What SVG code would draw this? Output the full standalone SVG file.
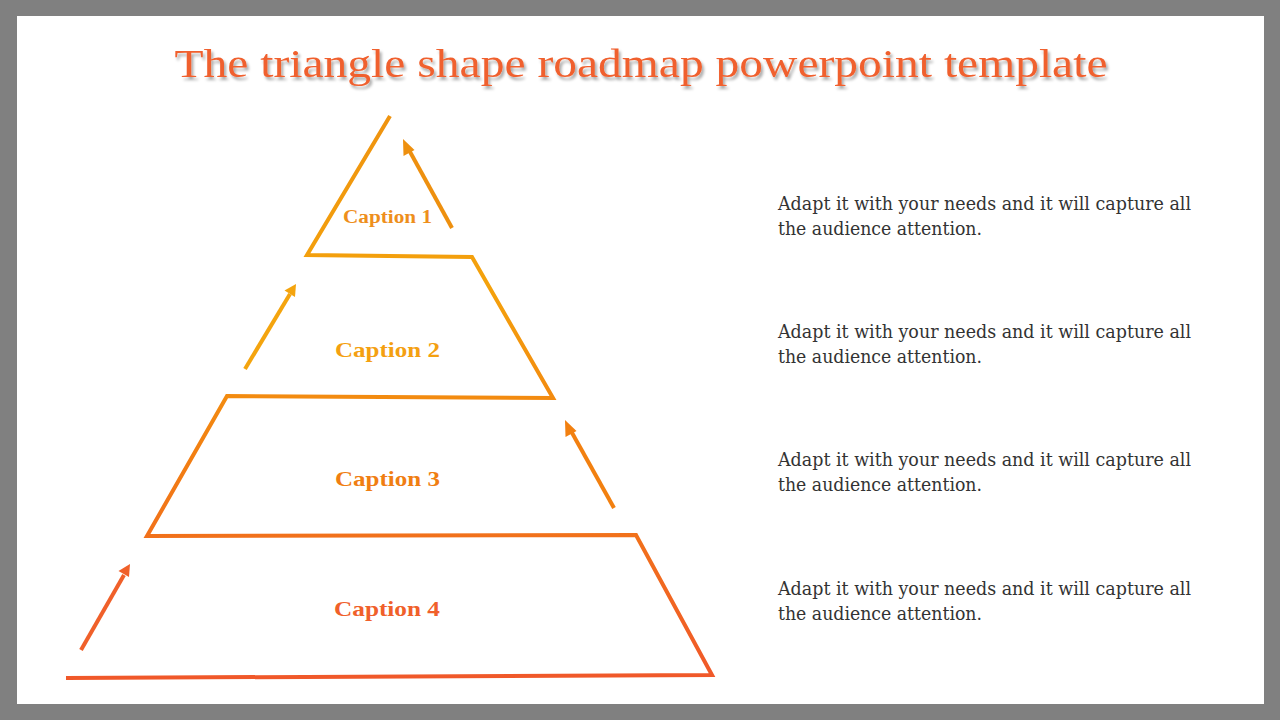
<svg xmlns="http://www.w3.org/2000/svg" width="1280" height="720" viewBox="0 0 1280 720">
  <defs>
    <linearGradient id="g" gradientUnits="userSpaceOnUse" x1="0" y1="116" x2="0" y2="680">
      <stop offset="0" stop-color="#EF930F"/>
      <stop offset="0.3" stop-color="#F4A20C"/>
      <stop offset="0.6" stop-color="#F27F12"/>
      <stop offset="1" stop-color="#F0582A"/>
    </linearGradient>
    <filter id="sh" x="-5%" y="-30%" width="110%" height="160%">
      <feGaussianBlur in="SourceAlpha" stdDeviation="1.5"/>
      <feOffset dx="2" dy="3" result="b"/>
      <feComponentTransfer><feFuncA type="linear" slope="0.35"/></feComponentTransfer>
      <feMerge><feMergeNode/><feMergeNode in="SourceGraphic"/></feMerge>
    </filter>
  </defs>
  <style>
    .cap{font-family:"Liberation Serif","DejaVu Serif",serif;font-weight:bold;text-anchor:middle}
    .body{font-family:"DejaVu Serif","Liberation Serif",serif;font-size:18px;fill:#333333}
    .arr{stroke-width:4;fill:none}
  </style>
  <rect x="0" y="0" width="1280" height="720" fill="#808080"/>
  <rect x="17" y="16" width="1247" height="688" fill="#FFFFFF"/>
  <text x="641" y="77" text-anchor="middle" font-family="Liberation Serif, DejaVu Serif, serif" font-size="41" fill="#F0602E" textLength="933" lengthAdjust="spacingAndGlyphs" filter="url(#sh)">The triangle shape roadmap powerpoint template</text>

  <g id="pyramid">
    <polyline points="390,116 307,255 472,257 553,398 227,396 147,536 636,535 712,675 66,678" fill="none" stroke="url(#g)" stroke-width="4" stroke-linejoin="miter"/>
  </g>

  <g id="connectors">
    <g stroke="#EE900F" fill="#EE900F">
      <line class="arr" x1="452" y1="228" x2="409" y2="150"/>
      <polygon points="403,139 403.5,156 414.5,150" stroke="none"/>
    </g>
    <g stroke="#F4A40E" fill="#F4A40E">
      <line class="arr" x1="245" y1="369" x2="290" y2="294"/>
      <polygon points="296,284 284.5,290.5 295,297" stroke="none"/>
    </g>
    <g stroke="#F28010" fill="#F28010">
      <line class="arr" x1="614" y1="508" x2="571" y2="431"/>
      <polygon points="565,420 565.5,437 576.5,431" stroke="none"/>
    </g>
    <g stroke="#F0602A" fill="#F0602A">
      <line class="arr" x1="81" y1="650" x2="124" y2="575"/>
      <polygon points="130,564 118.5,571 129,577" stroke="none"/>
    </g>
  </g>

  <g id="caption1"><text class="cap" x="387.5" y="223" font-size="18" fill="#EE8F1C" textLength="89" lengthAdjust="spacingAndGlyphs">Caption 1</text></g>
  <g id="caption2"><text class="cap" x="387.5" y="357" font-size="21" fill="#F4A011" textLength="105" lengthAdjust="spacingAndGlyphs">Caption 2</text></g>
  <g id="caption3"><text class="cap" x="387.5" y="486" font-size="21" fill="#F07E12" textLength="105" lengthAdjust="spacingAndGlyphs">Caption 3</text></g>
  <g id="caption4"><text class="cap" x="387" y="616" font-size="21" fill="#F0602A" textLength="106" lengthAdjust="spacingAndGlyphs">Caption 4</text></g>

  <g id="desc1"><text class="body" x="778" y="210" textLength="413" lengthAdjust="spacingAndGlyphs">Adapt it with your needs and it will capture all</text><text class="body" x="778" y="235" textLength="204" lengthAdjust="spacingAndGlyphs">the audience attention.</text></g>
  <g id="desc2"><text class="body" x="778" y="338" textLength="413" lengthAdjust="spacingAndGlyphs">Adapt it with your needs and it will capture all</text><text class="body" x="778" y="363" textLength="204" lengthAdjust="spacingAndGlyphs">the audience attention.</text></g>
  <g id="desc3"><text class="body" x="778" y="466" textLength="413" lengthAdjust="spacingAndGlyphs">Adapt it with your needs and it will capture all</text><text class="body" x="778" y="491" textLength="204" lengthAdjust="spacingAndGlyphs">the audience attention.</text></g>
  <g id="desc4"><text class="body" x="778" y="595" textLength="413" lengthAdjust="spacingAndGlyphs">Adapt it with your needs and it will capture all</text><text class="body" x="778" y="620" textLength="204" lengthAdjust="spacingAndGlyphs">the audience attention.</text></g>
</svg>
